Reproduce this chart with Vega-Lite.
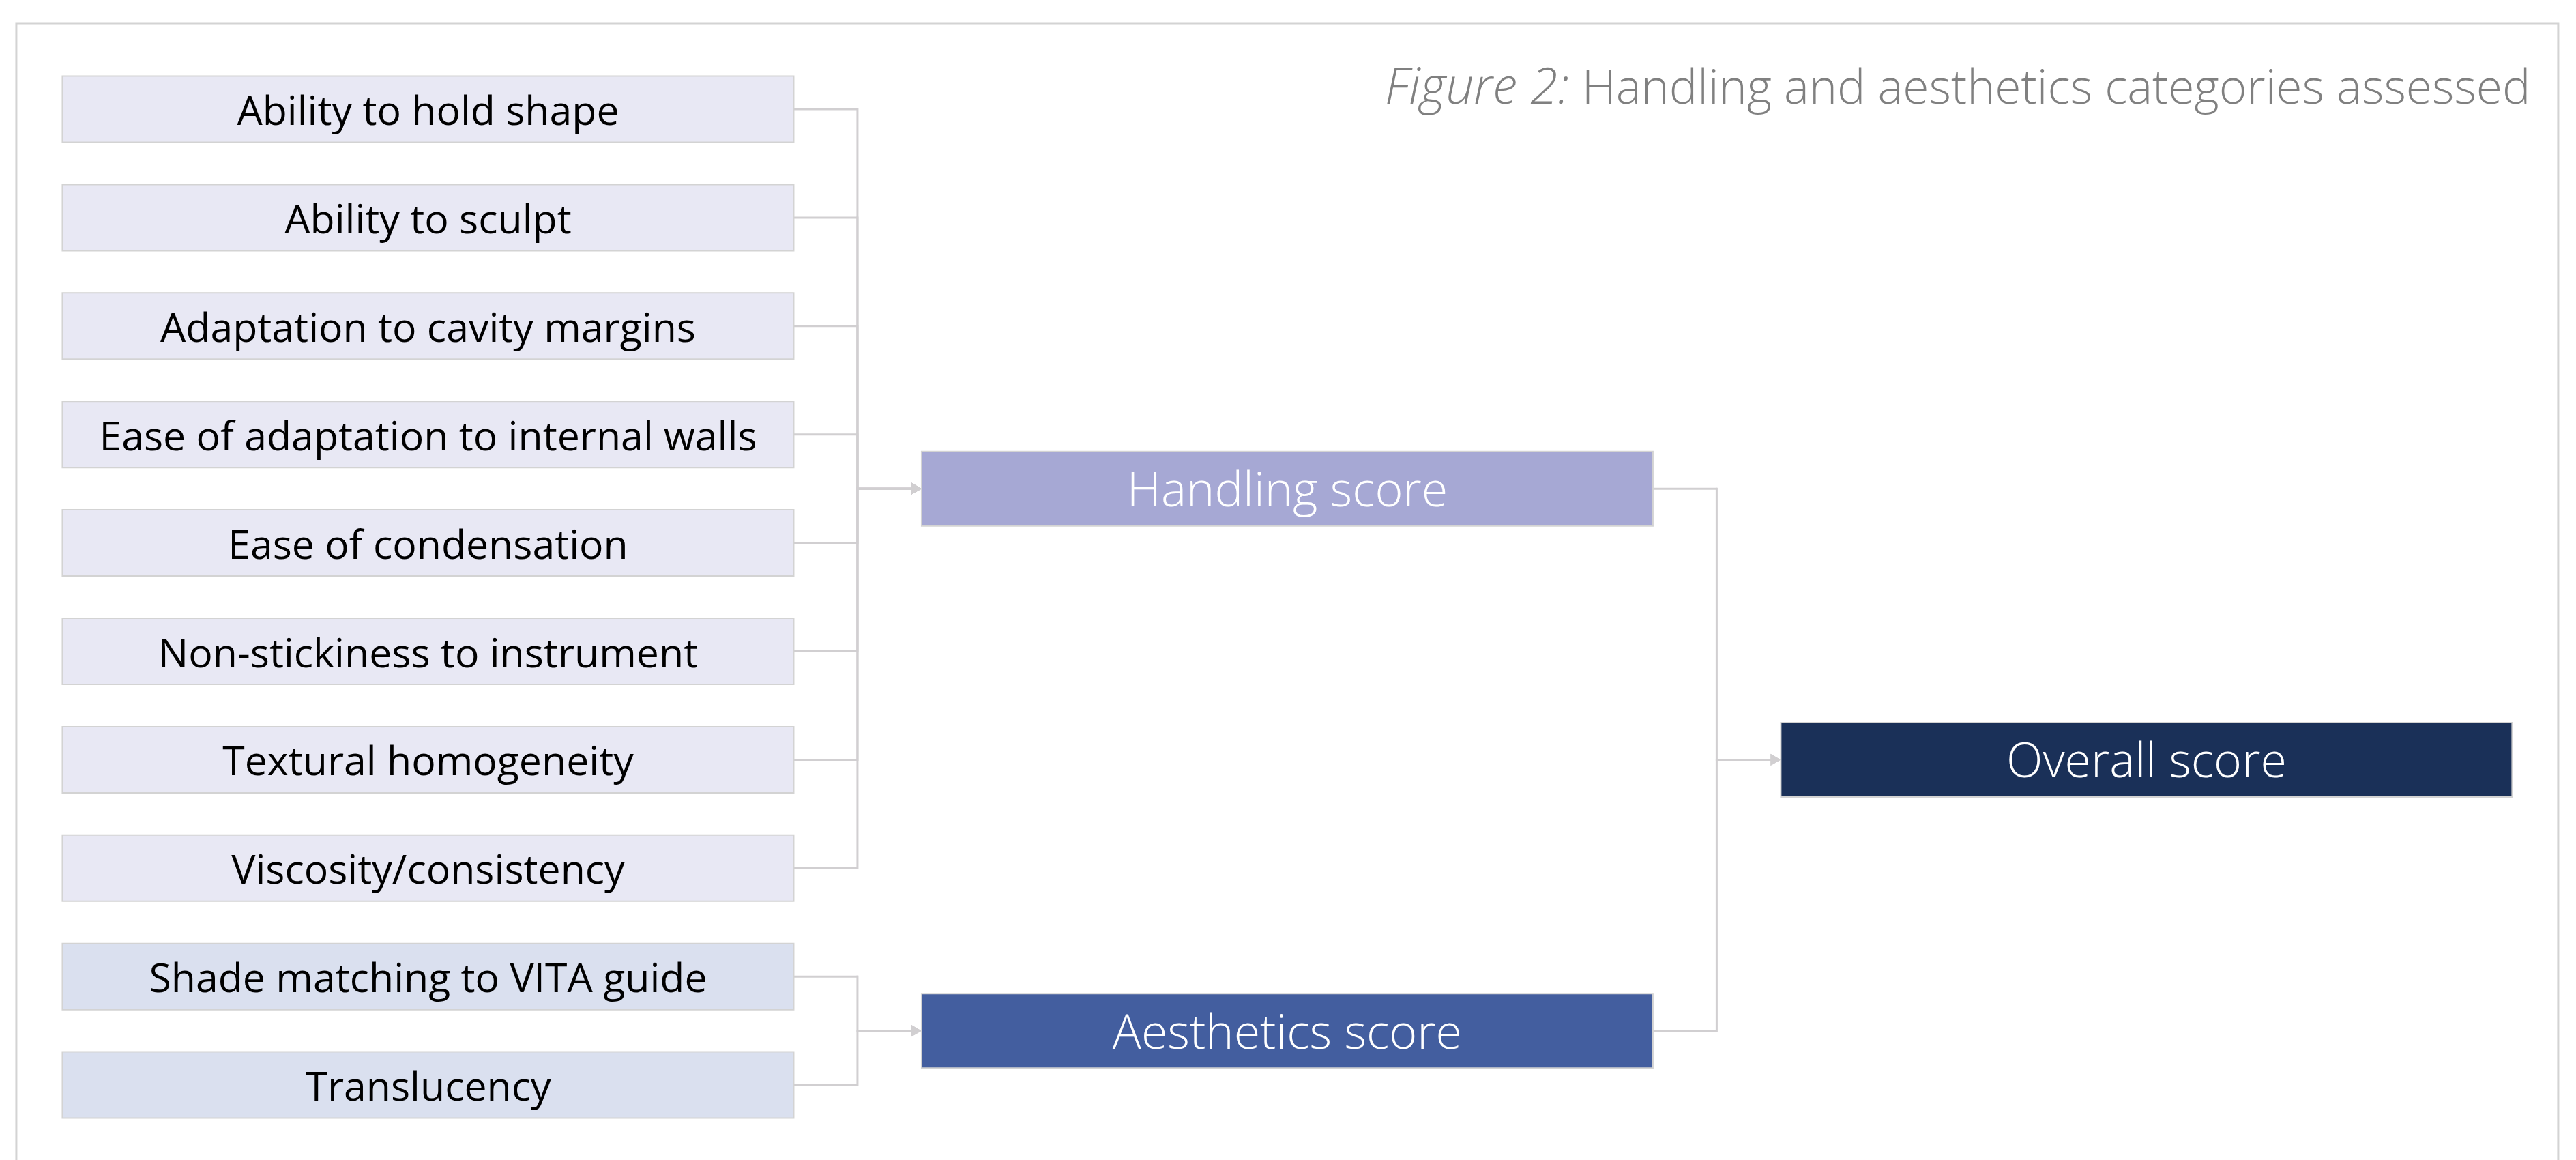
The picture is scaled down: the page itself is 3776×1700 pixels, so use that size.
{
  "$schema": "https://vega.github.io/schema/vega-lite/v6.json",
  "width": 3776,
  "height": 1700,
  "autosize": {"type": "fit", "contains": "padding"},
  "padding": 0,
  "background": "#ffffff",
  "config": {"view": {"stroke": null}, "font": "Open Sans"},
  "datasets": {
    "nodes": [
      {"name": "Ability to hold shape", "group": "Handling input", "col": 0, "row": 0},
      {"name": "Ability to sculpt", "group": "Handling input", "col": 0, "row": 1},
      {"name": "Adaptation to cavity margins", "group": "Handling input", "col": 0, "row": 2},
      {"name": "Ease of adaptation to internal walls", "group": "Handling input", "col": 0, "row": 3},
      {"name": "Ease of condensation", "group": "Handling input", "col": 0, "row": 4},
      {"name": "Non-stickiness to instrument", "group": "Handling input", "col": 0, "row": 5},
      {"name": "Textural homogeneity", "group": "Handling input", "col": 0, "row": 6},
      {"name": "Viscosity/consistency", "group": "Handling input", "col": 0, "row": 7},
      {"name": "Shade matching to VITA guide", "group": "Aesthetics input", "col": 0, "row": 8},
      {"name": "Translucency", "group": "Aesthetics input", "col": 0, "row": 9},
      {"name": "Handling score", "group": "Handling", "col": 1, "row": 3.5},
      {"name": "Aesthetics score", "group": "Aesthetics", "col": 1, "row": 8.5},
      {"name": "Overall score", "group": "Overall", "col": 2, "row": 6}
    ],
    "edges": [
      {"source": "Ability to hold shape", "target": "Handling score"},
      {"source": "Ability to sculpt", "target": "Handling score"},
      {"source": "Adaptation to cavity margins", "target": "Handling score"},
      {"source": "Ease of adaptation to internal walls", "target": "Handling score"},
      {"source": "Ease of condensation", "target": "Handling score"},
      {"source": "Non-stickiness to instrument", "target": "Handling score"},
      {"source": "Textural homogeneity", "target": "Handling score"},
      {"source": "Viscosity/consistency", "target": "Handling score"},
      {"source": "Shade matching to VITA guide", "target": "Aesthetics score"},
      {"source": "Translucency", "target": "Aesthetics score"},
      {"source": "Handling score", "target": "Overall score"},
      {"source": "Aesthetics score", "target": "Overall score"}
    ]
  },
  "layer": [
    {
      "data": {"values": [{"frame": "border"}]},
      "mark": {"type": "rect", "fill": null, "stroke": "#d3d3d3", "strokeWidth": 3, "clip": true},
      "encoding": {
        "x": {"datum": -0.4792, "type": "quantitative", "scale": {"domain": [-0.4982, 2.4999], "nice": false, "zero": false}, "axis": null},
        "x2": {"datum": 2.4792},
        "y": {"datum": -0.793, "type": "quantitative", "scale": {"domain": [-1.0069, 9.6916], "reverse": true, "nice": false, "zero": false}, "axis": null},
        "y2": {"datum": 9.9}
      }
    },
    {
      "data": {"name": "edges"},
      "transform": [
        {"lookup": "source", "from": {"data": {"name": "nodes"}, "key": "name", "fields": ["col", "row"]}, "as": ["src_col", "src_row"]},
        {"lookup": "target", "from": {"data": {"name": "nodes"}, "key": "name", "fields": ["col", "row"]}, "as": ["tgt_col", "tgt_row"]}
      ],
      "layer": [
        {
          "mark": {"type": "rule", "xOffset": 530, "x2Offset": 630, "color": "#d1cfd1", "strokeWidth": 3},
          "encoding": {
            "x": {"field": "src_col", "type": "quantitative", "scale": {"domain": [-0.4982, 2.4999], "nice": false, "zero": false}, "axis": null},
            "x2": {"field": "src_col"},
            "y": {"field": "src_row", "type": "quantitative", "scale": {"domain": [-1.0069, 9.6916], "reverse": true, "nice": false, "zero": false}, "axis": null}
          }
        },
        {
          "mark": {"type": "rule", "xOffset": -630, "color": "#d1cfd1", "strokeWidth": 3, "strokeCap": "square"},
          "encoding": {
            "x": {"field": "tgt_col", "type": "quantitative", "scale": {"domain": [-0.4982, 2.4999], "nice": false, "zero": false}, "axis": null},
            "y": {"field": "src_row", "type": "quantitative", "scale": {"domain": [-1.0069, 9.6916], "reverse": true, "nice": false, "zero": false}, "axis": null},
            "y2": {"field": "tgt_row"}
          }
        },
        {
          "mark": {"type": "rule", "xOffset": -630, "x2Offset": -548, "color": "#d1cfd1", "strokeWidth": 3},
          "encoding": {
            "x": {"field": "tgt_col", "type": "quantitative", "scale": {"domain": [-0.4982, 2.4999], "nice": false, "zero": false}, "axis": null},
            "x2": {"field": "tgt_col"},
            "y": {"field": "tgt_row", "type": "quantitative", "scale": {"domain": [-1.0069, 9.6916], "reverse": true, "nice": false, "zero": false}, "axis": null}
          }
        },
        {
          "mark": {"type": "point", "shape": "triangle-right", "filled": true, "opacity": 1, "size": 300, "color": "#d1cfd1", "xOffset": -543.5},
          "encoding": {
            "x": {"field": "tgt_col", "type": "quantitative", "scale": {"domain": [-0.4982, 2.4999], "nice": false, "zero": false}, "axis": null},
            "y": {"field": "tgt_row", "type": "quantitative", "scale": {"domain": [-1.0069, 9.6916], "reverse": true, "nice": false, "zero": false}, "axis": null}
          }
        }
      ]
    },
    {
      "data": {"name": "nodes"},
      "layer": [
        {
          "transform": [{"filter": "datum.col == 0"}],
          "mark": {"type": "rect", "xOffset": -536, "x2Offset": 536, "yOffset": -48.5, "y2Offset": 48.5, "stroke": "#d3d3d3", "strokeWidth": 2},
          "encoding": {
            "x": {"field": "col", "type": "quantitative", "scale": {"domain": [-0.4982, 2.4999], "nice": false, "zero": false}, "axis": null},
            "x2": {"field": "col"},
            "y": {"field": "row", "type": "quantitative", "scale": {"domain": [-1.0069, 9.6916], "reverse": true, "nice": false, "zero": false}, "axis": null},
            "y2": {"field": "row"},
            "fill": {"field": "group", "type": "nominal", "scale": {"domain": ["Handling input", "Aesthetics input", "Handling", "Aesthetics", "Overall"], "range": ["#e8e8f4", "#dae0ef", "#a6a8d4", "#435e9f", "#1a3058"]}, "legend": null}
          }
        },
        {
          "transform": [{"filter": "datum.col >= 1"}],
          "mark": {"type": "rect", "xOffset": -536, "x2Offset": 536, "yOffset": -54.5, "y2Offset": 54.5, "stroke": "#d3d3d3", "strokeWidth": 2},
          "encoding": {
            "x": {"field": "col", "type": "quantitative", "scale": {"domain": [-0.4982, 2.4999], "nice": false, "zero": false}, "axis": null},
            "x2": {"field": "col"},
            "y": {"field": "row", "type": "quantitative", "scale": {"domain": [-1.0069, 9.6916], "reverse": true, "nice": false, "zero": false}, "axis": null},
            "y2": {"field": "row"},
            "fill": {"field": "group", "type": "nominal", "scale": {"domain": ["Handling input", "Aesthetics input", "Handling", "Aesthetics", "Overall"], "range": ["#e8e8f4", "#dae0ef", "#a6a8d4", "#435e9f", "#1a3058"]}, "legend": null}
          }
        },
        {
          "transform": [{"filter": "datum.col == 0"}],
          "mark": {"type": "text", "align": "center", "baseline": "middle", "dy": 5, "font": "Open Sans", "fontSize": 59, "fontWeight": 400, "color": "#000000"},
          "encoding": {
            "x": {"field": "col", "type": "quantitative", "scale": {"domain": [-0.4982, 2.4999], "nice": false, "zero": false}, "axis": null},
            "y": {"field": "row", "type": "quantitative", "scale": {"domain": [-1.0069, 9.6916], "reverse": true, "nice": false, "zero": false}, "axis": null},
            "text": {"field": "name"}
          }
        },
        {
          "transform": [{"filter": "datum.col >= 1"}],
          "mark": {"type": "text", "align": "center", "baseline": "middle", "dy": 5, "font": "Open Sans", "fontSize": 70, "fontWeight": 300, "color": "#ffffff"},
          "encoding": {
            "x": {"field": "col", "type": "quantitative", "scale": {"domain": [-0.4982, 2.4999], "nice": false, "zero": false}, "axis": null},
            "y": {"field": "row", "type": "quantitative", "scale": {"domain": [-1.0069, 9.6916], "reverse": true, "nice": false, "zero": false}, "axis": null},
            "text": {"field": "name"}
          }
        }
      ]
    },
    {
      "data": {"values": [{"part": "Figure 2:"}]},
      "mark": {"type": "text", "align": "right", "baseline": "alphabetic", "font": "Open Sans", "fontSize": 73, "fontWeight": 300, "fontStyle": "italic", "color": "#808080"},
      "encoding": {
        "x": {"datum": 1.3279, "type": "quantitative", "scale": {"domain": [-0.4982, 2.4999], "nice": false, "zero": false}, "axis": null},
        "y": {"datum": -0.0503, "type": "quantitative", "scale": {"domain": [-1.0069, 9.6916], "reverse": true, "nice": false, "zero": false}, "axis": null},
        "text": {"field": "part"}
      }
    },
    {
      "data": {"values": [{"part": "Handling and aesthetics categories assessed"}]},
      "mark": {"type": "text", "align": "left", "baseline": "alphabetic", "font": "Open Sans", "fontSize": 69.6, "fontWeight": 300, "color": "#808080"},
      "encoding": {
        "x": {"datum": 1.3429, "type": "quantitative", "scale": {"domain": [-0.4982, 2.4999], "nice": false, "zero": false}, "axis": null},
        "y": {"datum": -0.0503, "type": "quantitative", "scale": {"domain": [-1.0069, 9.6916], "reverse": true, "nice": false, "zero": false}, "axis": null},
        "text": {"field": "part"}
      }
    }
  ]
}
